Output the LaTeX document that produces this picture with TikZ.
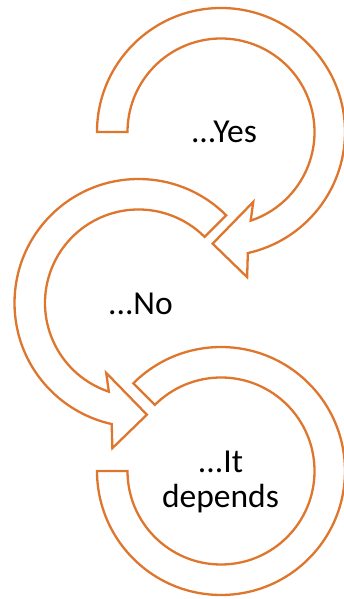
\documentclass[tikz,border=0pt]{standalone}
\usepackage{fontspec}
\setmainfont{Carlito}
\definecolor{arrowline}{RGB}{222,118,46}
\begin{document}
\begin{tikzpicture}[x=1pt,y=1pt,
  band/.style={draw=arrowline,line width=2.3pt,fill=white,line join=miter},
  label/.style={font=\fontsize{33.5}{35}\selectfont,text=black,inner sep=0pt,anchor=base}]
\useasboundingbox (0,0) rectangle (344,599);
% arrow 1 (top)
\begin{scope}[shift={(221,467)}]
\draw[band] (180:124) arc[start angle=180,end angle=-77.5,radius=124pt]
  -- (-79.8:147.5) -- (-94.3:112) -- (-65.2:77) -- (-71.5:93.5)
  arc[start angle=-71.5,end angle=180,radius=93.5pt] -- cycle;
\end{scope}
% arrow 2 (middle)
\begin{scope}[shift={(138.5,296)}]
\draw[band] (45:124) arc[start angle=45,end angle=257.5,radius=124pt]
  -- (259.8:147.5) -- (274.3:112) -- (245.2:77) -- (251.5:93.5)
  arc[start angle=251.5,end angle=45,radius=93.5pt] -- cycle;
\end{scope}
% arrow 3 (bottom)
\begin{scope}[shift={(221,128)}]
\draw[band] (135:124) arc[start angle=135,end angle=-180,radius=124pt]
  -- (-180:93.5) arc[start angle=-180,end angle=135,radius=93.5pt] -- cycle;
\end{scope}
\node[label] (yes) at (224,456) {...Yes};
\node[label] (no) at (140.5,284) {...No};
\node[label] (it) at (220.5,126) {...It};
\node[label] (dep) at (220.5,91) {depends};
\end{tikzpicture}
\end{document}
